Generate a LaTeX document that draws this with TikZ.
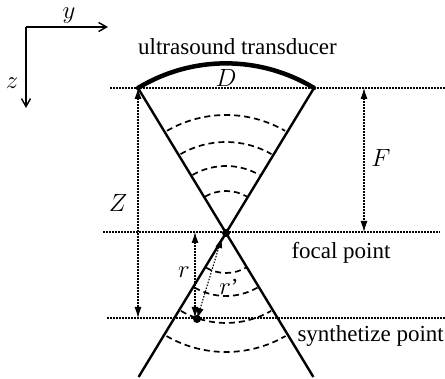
\documentclass[tikz,border=0pt]{standalone}
\usepackage{fontspec}
\setmainfont{Liberation Serif}
\usetikzlibrary{arrows.meta}
\begin{document}
\begin{tikzpicture}[x=1pt,y=1pt,
  every node/.style={font=\fontsize{23}{25}\selectfont, inner sep=0pt},
  cone/.style={line width=2.4pt},
  wave/.style={line width=1.7pt, dash pattern=on 6pt off 4pt},
  guide/.style={line width=1.1pt, dash pattern=on 1.5pt off 1.5pt},
  dim/.style={line width=1.1pt, dash pattern=on 1.5pt off 1.5pt, {Latex[length=11pt,width=7pt]}-{Latex[length=11pt,width=7pt]}},
  axis/.style={line width=1.4pt, -{Straight Barb[length=8pt,width=9pt]}}]
\useasboundingbox (0,0) rectangle (445,379);
% key points
\coordinate (Fo) at (226,146);
\coordinate (L) at (138,291);
\coordinate (R) at (314,291);
\coordinate (BL) at (138.6,2);
\coordinate (BR) at (313.4,2);
\coordinate (S) at (197,60);
% axes
\coordinate (O) at (26,352);
\coordinate (Ay) at (108,352);
\coordinate (Az) at (26,271);
\draw[axis] (O) -- (Ay);
\draw[axis] (O) -- (Az);
\node (ylab) at (69,363) {$y$};
\node (zlab) at (12,296) {$z$};
% guide lines
\coordinate (T1) at (110,291); \coordinate (T2) at (445,291);
\coordinate (F1) at (103,147); \coordinate (F2) at (440,147);
\coordinate (S1) at (107,61); \coordinate (S2) at (445,61);
\draw[guide] (T1) -- (T2);
\draw[guide] (F1) -- (F2);
\draw[guide] (S1) -- (S2);
% transducer
\draw[line width=4.5pt, line cap=round] (L) arc[start angle=121.26, end angle=58.74, radius=169.6];
\node (tr) at (237.5,332) {ultrasound transducer};
\node (D) at (226,301) {$D$};
% cone
\draw[cone] (L) -- (Fo) -- (BR);
\draw[cone] (R) -- (Fo) -- (BL);
% wave fronts
\foreach \r in {42,67,91,118}
  \draw[wave] ([shift={(120:\r)}]Fo) arc[start angle=120, end angle=60, radius=\r];
\foreach \r in {40,63,90,119}
  \draw[wave] ([shift={(240:\r)}]Fo) arc[start angle=240, end angle=300, radius=\r];
% dots
\fill (Fo) circle (4);
\fill (S) circle (4);
% dimensions
\coordinate (Zt) at (138,291); \coordinate (Zb) at (138,61);
\draw[dim] (Zt) -- (Zb);
\node (Z) at (118,176) {$Z$};
\coordinate (Ft) at (364,291); \coordinate (Fb) at (364,147);
\draw[dim] (Ft) -- (Fb);
\node (F) at (381,221) {$F$};
\coordinate (rt) at (195,147); \coordinate (rb) at (195,61);
\draw[dim] (rt) -- (rb);
\node (r) at (184,107) {$r$};
\coordinate (rp) at (222,142);
\draw[dim] (S) -- (rp);
\node (rprime) at (229,92) {$r$’};
% labels
\node (fp) at (341,126) {focal point};
\node[anchor=east] (sp) at (444,43) {synthetize point};
\end{tikzpicture}
\end{document}
